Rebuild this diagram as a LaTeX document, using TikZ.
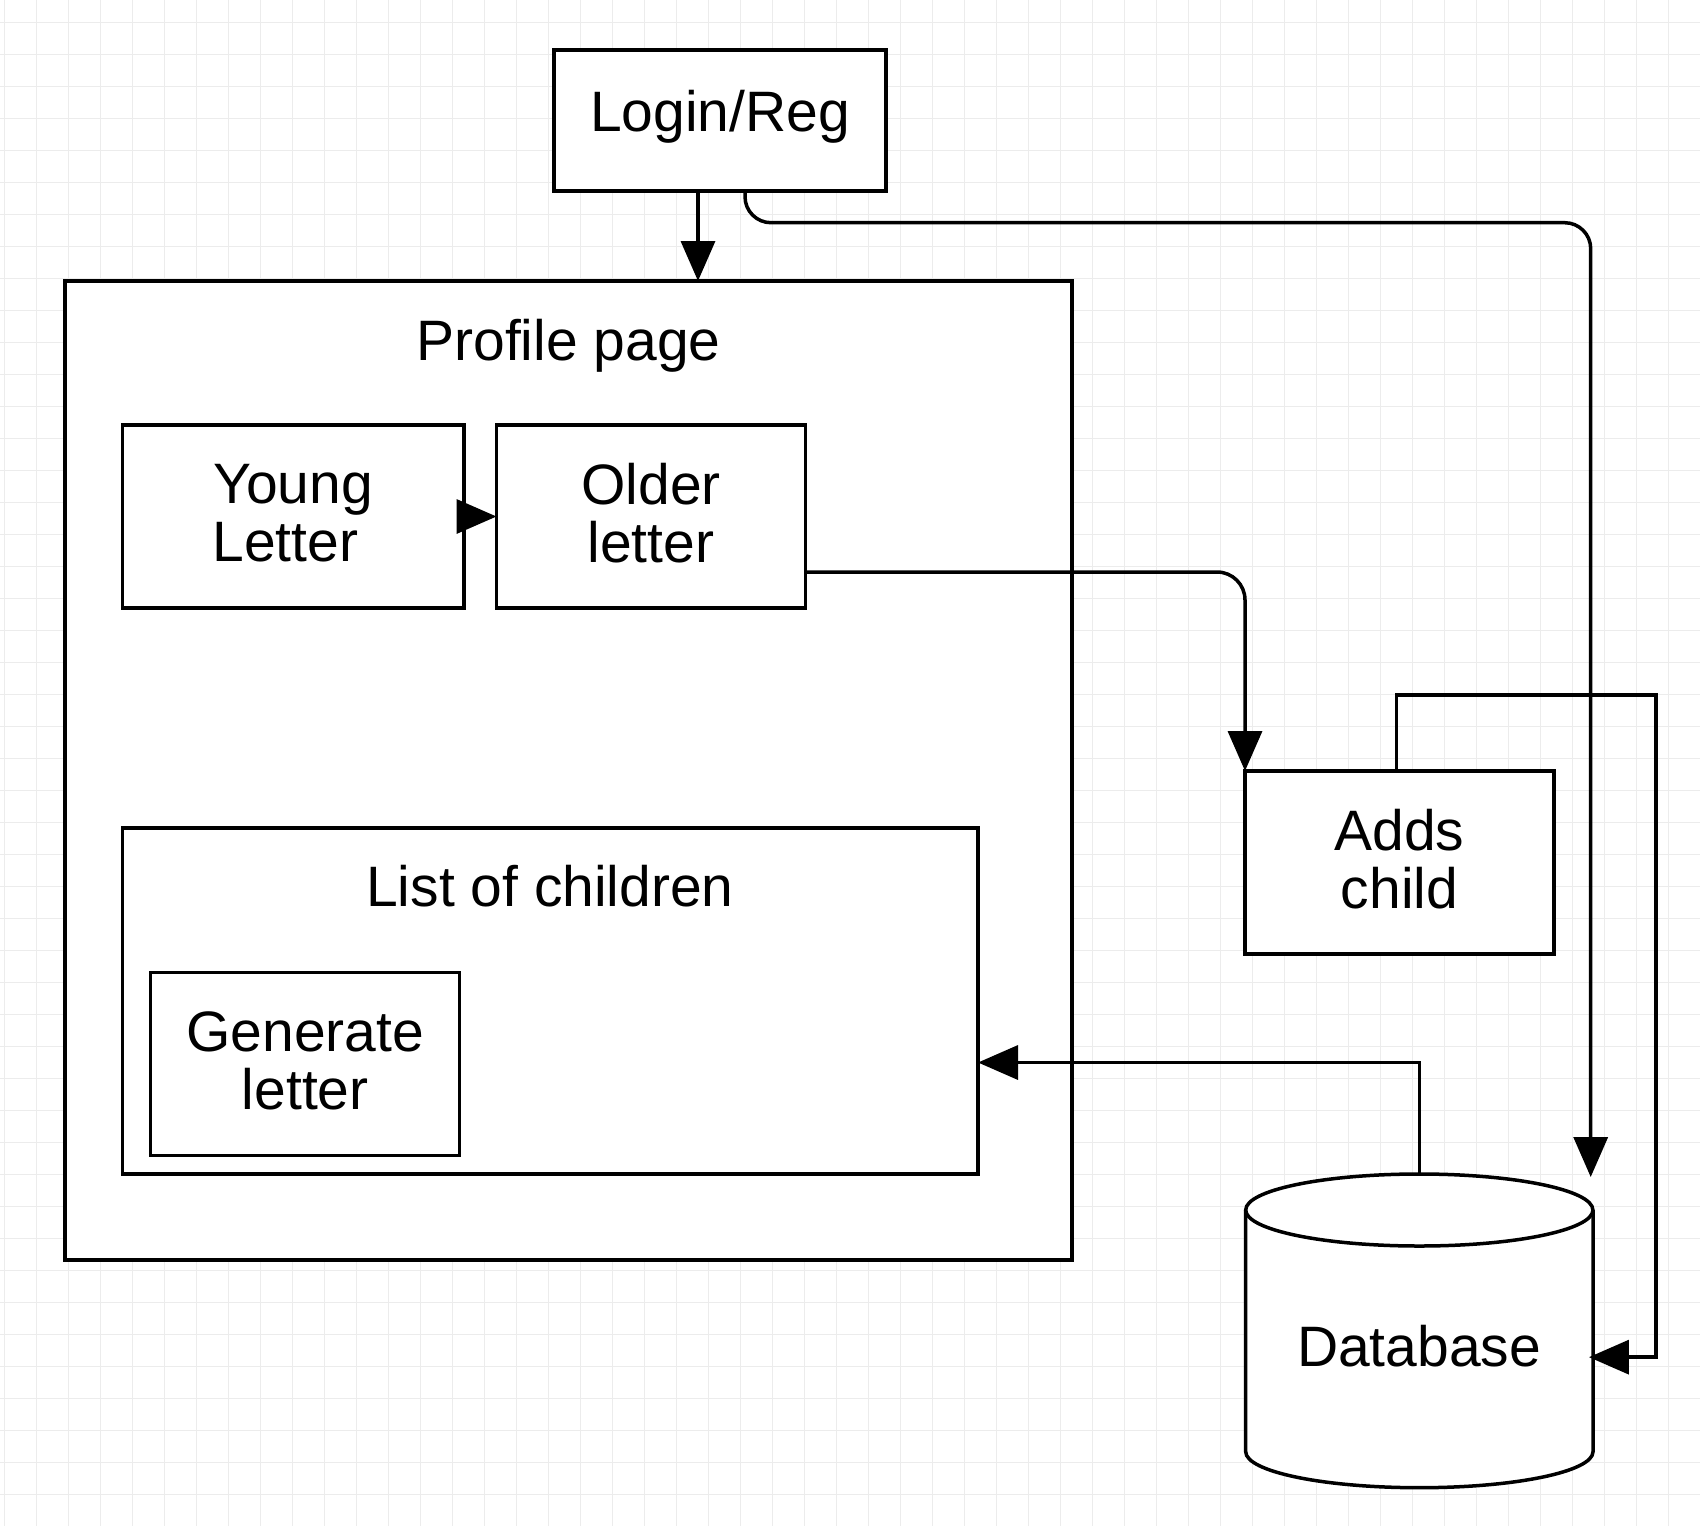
\documentclass[tikz,border=0pt]{standalone}
\usepackage{fontspec}
\setmainfont{Liberation Sans}
\usetikzlibrary{arrows.meta,calc}
\definecolor{gridc}{RGB}{236,236,236}
\begin{document}
\begin{tikzpicture}[x=1pt,y=-1pt,
  box/.style={draw, line width=3.5pt, fill=white, anchor=north west, inner sep=0pt, outer sep=0pt},
  lbl/.style={font=\fontsize{57}{58}\selectfont, align=center, inner sep=0pt},
  conn/.style={line width=3.5pt, -{Triangle[length=40pt,width=34pt]}},
]
\useasboundingbox (0,0) rectangle (1700,1526);
\fill[white] (0,0) rectangle (1700,1526);
% grid
\foreach \i in {0,...,52} \draw[gridc, line width=1pt] (4.3+32*\i,0) -- (4.3+32*\i,1526);
\foreach \j in {0,...,46} \draw[gridc, line width=1pt] (0,22.3+32*\j) -- (1700,22.3+32*\j);

% boxes
\node[box, minimum width=332pt, minimum height=141pt] (login) at (554,50) {};
\node[lbl] (logint) at ($(login.center)+(0,-4)$) {Login/Reg};
\node[box, minimum width=1007pt, minimum height=979pt] (profile) at (65,281) {};
\node[lbl] (profilel) at (568.5,346) {Profile page};
\node[box, minimum width=341.5pt, minimum height=183pt] (young) at (122.5,425) {};
\node[lbl] (youngt) at ($(young.center)+(0,-3)$) {Young\\Letter\hspace*{0.28em}};
\node[box, minimum width=309pt, minimum height=183pt] (older) at (496.5,425) {};
\node[lbl] (oldert) at ($(older.center)+(0,-3)$) {Older\\letter};
\node[box, minimum width=855.5pt, minimum height=346pt] (list) at (122.5,828) {};
\node[lbl] (listl) at (550,886) {List of children};
\node[box, minimum width=309pt, minimum height=183pt] (gen) at (150.7,972.5) {};
\node[lbl] (gent) at ($(gen.center)+(0,-3)$) {Generate\\letter};
\node[box, minimum width=309pt, minimum height=183pt] (adds) at (1245,771) {};
\node[lbl] (addst) at ($(adds.center)+(0,-3)$) {Adds\\child};

% database cylinder
\node[inner sep=0pt, outer sep=0pt, minimum width=347.3pt, minimum height=313.7pt] (db) at (1419.3,1330.85) {};
\draw[line width=3.5pt, fill=white] (1245.7,1210) -- (1245.7,1451.7)
  .. controls (1245.7,1471.6) and (1323.4,1487.7) .. (1419.3,1487.7)
  .. controls (1515.2,1487.7) and (1593,1471.6) .. (1593,1451.7) -- (1593,1210);
\draw[line width=3.5pt, fill=white] (1419.3,1210) ellipse [x radius=173.6pt, y radius=36pt];
\node[lbl] (dbl) at (1419,1346.5) {Database};

% connectors
\coordinate (a1) at (698,0);
\draw[conn] (a1 |- login.south) -- (a1 |- profile.north);

\coordinate (a2) at (745,0);
\coordinate (a3) at (1590.7,222.7);
\coordinate (a4) at (1590.7,1177);
\draw[conn, rounded corners=26pt] (a2 |- login.south) |- (a3) -- (a4);

\draw[conn] (young.east) -- (older.west);

\draw[conn, rounded corners=28pt] ($(older.north east)+(0,147)$) -| (adds.north west);

\coordinate (b1) at (1396.5,0);
\coordinate (b2) at (1656,695);
\draw[conn] (b1 |- adds.north) |- (b2) |- ($(db.east)+(-4,26.3)$);

\coordinate (c1) at (0,1062.5);
\draw[conn] (db.north) |- (list.east |- c1);
\end{tikzpicture}
\end{document}
